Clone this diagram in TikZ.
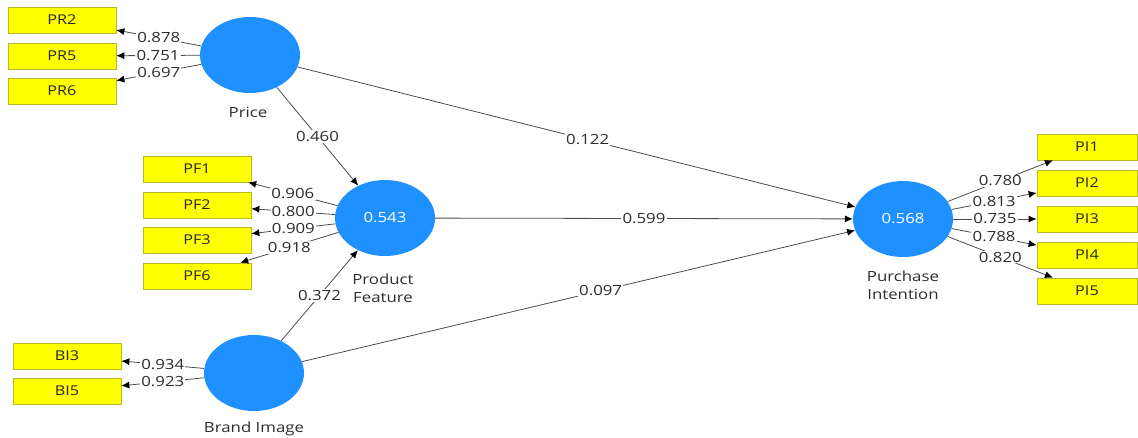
\documentclass[tikz,border=0pt]{standalone}
\usepackage{fontspec}
\setmainfont{Open Sans}[FakeStretch=1.2]
\usetikzlibrary{arrows.meta,shapes.geometric}
\definecolor{lvblue}{RGB}{30,144,255}
\definecolor{indyel}{RGB}{255,255,0}
\definecolor{indedge}{RGB}{185,185,40}
\definecolor{txtgray}{RGB}{45,45,45}
\begin{document}
\begin{tikzpicture}[x=1pt,y=-1pt,
  lv/.style={ellipse, fill=lvblue, draw=none, minimum width=100pt, minimum height=76pt, inner sep=0pt, text=white, font=\fontsize{14}{16}\selectfont},
  ind/.style={rectangle, fill=indyel, draw=indedge, line width=0.7pt, minimum width=108pt, minimum height=26pt, inner sep=0pt, text=black!85, font=\fontsize{13.5}{15}\selectfont},
  indn/.style={ind, minimum width=100pt},
  lvname/.style={align=center, text=txtgray, font=\fontsize{14}{18}\selectfont},
  lbl/.style={fill=white, inner sep=1.2pt, text=txtgray, font=\fontsize{14}{16}\selectfont},
  link/.style={draw=black!70, line width=0.8pt, -{Latex[length=8pt,width=7pt,black]}}
]
\useasboundingbox (0,0) rectangle (1138,437);
% latent variables
\node[lv] (PR) at (250,55) {};
\node[lv] (PF) at (385,218) {0.543};
\node[lv] (BI) at (254,373) {};
\node[lv] (PI) at (903,219) {0.568};
\node[lvname] (PRn) at (248,112) {Price};
\node[lvname] (PFn) at (383,288) {Product\\Feature};
\node[lvname] (BIn) at (254,429) {Brand Image};
\node[lvname] (PIn) at (903,285) {Purchase\\Intention};
% indicators
\node[ind] (PR2) at (62,20) {PR2};
\node[ind] (PR5) at (62,56) {PR5};
\node[ind] (PR6) at (62,91) {PR6};
\node[ind] (PF1) at (197,169) {PF1};
\node[ind] (PF2) at (197,205) {PF2};
\node[ind] (PF3) at (197,240) {PF3};
\node[ind] (PF6) at (197,276) {PF6};
\node[ind] (BI3) at (67,356) {BI3};
\node[ind] (BI5) at (67,391) {BI5};
\node[indn] (PI1) at (1087,147) {PI1};
\node[indn] (PI2) at (1087,183) {PI2};
\node[indn] (PI3) at (1087,219) {PI3};
\node[indn] (PI4) at (1087,255) {PI4};
\node[indn] (PI5) at (1087,291) {PI5};
% outer loadings
\draw[link] (PR) -- node[lbl]{0.878} (PR2);
\draw[link] (PR) -- node[lbl]{0.751} (PR5);
\draw[link] (PR) -- node[lbl]{0.697} (PR6);
\draw[link] (PF) -- node[lbl]{0.906} (PF1);
\draw[link] (PF) -- node[lbl]{0.800} (PF2);
\draw[link] (PF) -- node[lbl]{0.909} (PF3);
\draw[link] (PF) -- node[lbl]{0.918} (PF6);
\draw[link] (BI) -- node[lbl]{0.934} (BI3);
\draw[link] (BI) -- node[lbl]{0.923} (BI5);
\draw[link] (PI) -- node[lbl]{0.780} (PI1);
\draw[link] (PI) -- node[lbl]{0.813} (PI2);
\draw[link] (PI) -- node[lbl]{0.735} (PI3);
\draw[link] (PI) -- node[lbl]{0.788} (PI4);
\draw[link] (PI) -- node[lbl]{0.820} (PI5);
% structural paths
\draw[link] (PR) -- node[lbl]{0.460} (PF);
\draw[link] (PR) -- node[lbl,pos=0.52]{0.122} (PI);
\draw[link] (PF) -- node[lbl]{0.599} (PI);
\draw[link] (BI) -- node[lbl]{0.372} (PF);
\draw[link] (BI) -- node[lbl,pos=0.54]{0.097} (PI);
\end{tikzpicture}
\end{document}
